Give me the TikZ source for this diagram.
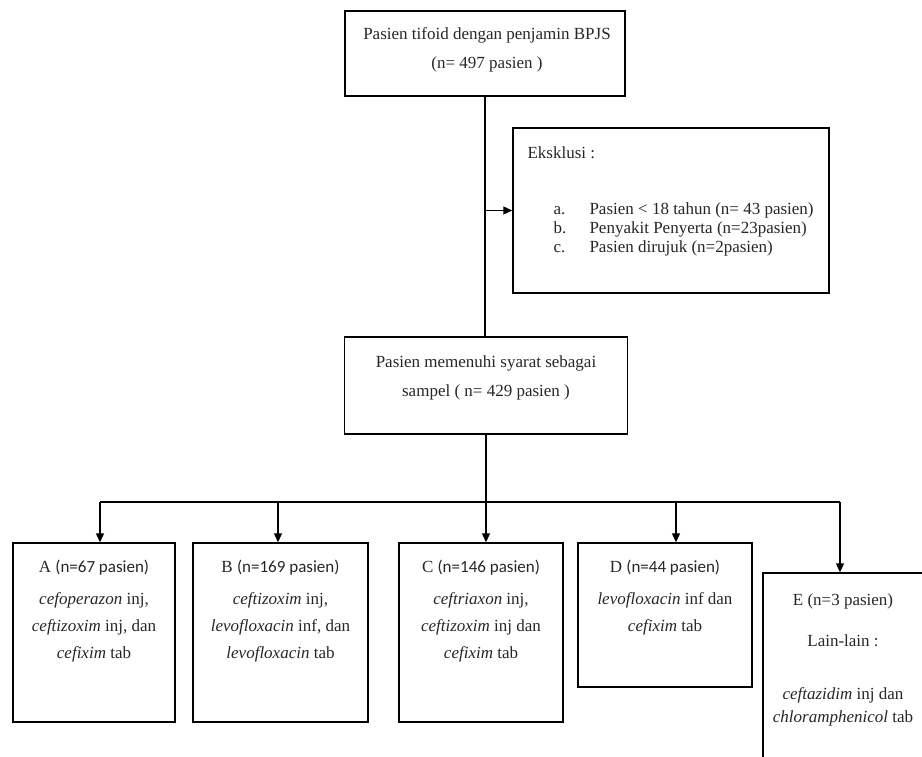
\documentclass[tikz,border=0pt]{standalone}
\usepackage{fontspec}
\setmainfont{Liberation Serif}
\newfontfamily\calibri{Carlito}
\usetikzlibrary{arrows.meta}

\tikzset{
  kotak/.style={draw, line width=1.4pt, inner sep=0pt},
  teks/.style={align=center, text=black!85, font=\fontsize{17}{29}\selectfont},
  isi/.style={align=center, text=black!85, font=\fontsize{17}{27}\selectfont},
  garis/.style={line width=1.2pt},
  panah/.style={garis, -{Triangle[length=9pt,width=8pt]}},
}

\begin{document}
\begin{tikzpicture}[x=1pt,y=-1pt]
  \useasboundingbox (0,0) rectangle (922,756);
  \clip (0,0) rectangle (922,756);

  \node[kotak, minimum width=280pt, minimum height=85pt] (awal) at (485,53.5) {};
  \node[teks] (awalteks) at (487,50) {Pasien tifoid dengan penjamin BPJS\\(n= 497 pasien )};

  \node[kotak, minimum width=316pt, minimum height=165pt] (ekskl) at (671,210.5) {};
  \node[teks, anchor=west] (eksklj) at (524,153) {Eksklusi :};
  \node[align=left, anchor=west, text=black!85, font=\fontsize{17}{19}\selectfont] (eksklisi) at (550,229)
    {\makebox[36pt][l]{a.}Pasien < 18 tahun (n= 43 pasien)\\
     \makebox[36pt][l]{b.}Penyakit Penyerta (n=23pasien)\\
     \makebox[36pt][l]{c.}Pasien dirujuk (n=2pasien)};

  \node[kotak, minimum width=283pt, minimum height=97pt] (tengah) at (486,385.5) {};
  \node[teks] (tengahteks) at (486,377.5) {Pasien memenuhi syarat sebagai\\sampel ( n= 429 pasien )};

  \node[kotak, minimum width=162pt, minimum height=179pt] (kelA) at (94,632.5) {};
  \node[kotak, minimum width=175pt, minimum height=179pt] (kelB) at (280.5,632.5) {};
  \node[kotak, minimum width=164pt, minimum height=179pt] (kelC) at (481,632.5) {};
  \node[kotak, minimum width=174pt, minimum height=144pt] (kelD) at (665,615) {};
  \node[kotak, minimum width=164pt, minimum height=200pt] (kelE) at (845,673) {};

  \node[teks] (judulA) at (94,568) {A {\calibri(n=67 pasien)}};
  \node[isi] (isiA) at (94,627) {\textit{cefoperazon} inj,\\\textit{ceftizoxim} inj, dan\\\textit{cefixim} tab};
  \node[teks] (judulB) at (280.5,568) {B {\calibri(n=169 pasien)}};
  \node[isi] (isiB) at (280.5,627) {\textit{ceftizoxim} inj,\\\textit{levofloxacin} inf, dan\\\textit{levofloxacin} tab};
  \node[teks] (judulC) at (481,568) {C {\calibri(n=146 pasien)}};
  \node[isi] (isiC) at (481,627) {\textit{ceftriaxon} inj,\\\textit{ceftizoxim} inj dan\\\textit{cefixim} tab};
  \node[teks] (judulD) at (665,568) {D {\calibri(n=44 pasien)}};
  \node[isi] (isiD) at (665,613.5) {\textit{levofloxacin} inf dan\\\textit{cefixim} tab};
  \node[teks] (judulE) at (843,601) {E (n=3 pasien)};
  \node[teks] (lainE) at (843,641) {Lain-lain :};
  \node[isi, font=\fontsize{17}{23}\selectfont] (isiE) at (843,707) {\textit{ceftazidim} inj dan\\\textit{chloramphenicol} tab};

  \draw[garis] (awal.south) -- (awal.south |- tengah.north);
  \draw[panah] (awal.south |- ekskl.west) -- (ekskl.west);

  \coordinate (tA) at (100,502);
  \coordinate (tB) at (278,502);
  \coordinate (tC) at (486,502);
  \coordinate (tD) at (676,502);
  \coordinate (tE) at (840,502);
  \draw[garis] (tengah.south) -- (tC);
  \draw[garis] (tA) -- (tE);
  \foreach \k in {A,B,C,D,E}
    \draw[panah] (t\k) -- (t\k |- kel\k.north);
\end{tikzpicture}
\end{document}
